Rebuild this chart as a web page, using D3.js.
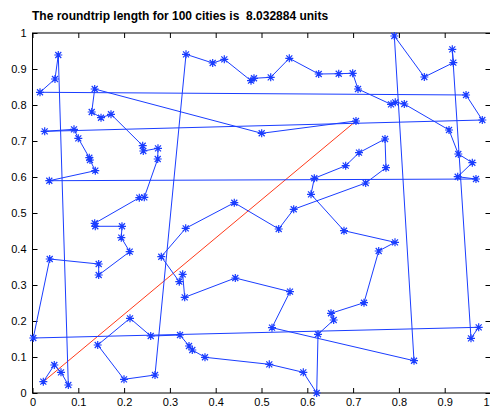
<!DOCTYPE html>
<html>
<head>
<meta charset="utf-8">
<script src="https://cdn.jsdelivr.net/npm/d3@7"></script>
<style>
  html, body { margin: 0; padding: 0; background: #fff; }
  svg { display: block; font-family: "Liberation Sans", Arial, Helvetica, sans-serif; }
</style>
</head>
<body>
<script>
// Tour through the cities, in visiting order (last city closes back to the first).
const routeX = [0.7063,0.5004,0.1358,0.1293,0.1496,0.1714,0.2406,0.2419,0.2740,0.2734,
  0.2441,0.2332,0.1358,0.1371,0.1954,0.1939,0.2122,0.1445,0.1445,0.0376,
  0.0017,0.9742,0.9574,0.9166,0.9188,0.8555,0.7900,0.8330,0.5229,0.5622,
  0.4428,0.3323,0.3279,0.3205,0.2812,0.3345,0.4406,0.5376,0.5703,0.7275,
  0.7718,0.7697,0.7129,0.6838,0.6153,0.6081,0.6801,0.7915,0.7559,0.7238,
  0.6518,0.6576,0.6234,0.6205,0.5913,0.5170,0.3766,0.3489,0.3417,0.3221,
  0.2581,0.2129,0.1424,0.1998,0.2675,0.3352,0.3934,0.4188,0.4771,0.4836,
  0.5201,0.5607,0.6249,0.6686,0.6991,0.7107,0.7828,0.7921,0.8118,0.9094,
  0.9297,0.9603,0.9284,0.9683,0.0367,0.1371,0.1255,0.1240,0.1000,0.0906,
  0.0266,0.9821,0.9466,0.0164,0.0491,0.0563,0.0782,0.0622,0.0476,0.0236];
const routeY = [0.7556,0.7214,0.8444,0.7806,0.7647,0.7742,0.6869,0.6722,0.6797,0.6500,
  0.5436,0.5425,0.4714,0.4631,0.4631,0.4314,0.3925,0.3278,0.3583,0.3722,
  0.1528,0.1825,0.1519,0.9547,0.9175,0.8778,0.9917,0.0897,0.1814,0.2814,
  0.3194,0.2658,0.3297,0.3092,0.3786,0.4575,0.5286,0.4556,0.5103,0.5833,
  0.6258,0.7056,0.6675,0.6314,0.5964,0.5519,0.4508,0.4186,0.3944,0.2508,
  0.2214,0.2028,0.1631,0.0000,0.0575,0.0797,0.0992,0.1194,0.1306,0.1611,
  0.1583,0.2075,0.1333,0.0380,0.0500,0.9408,0.9167,0.9269,0.8675,0.8742,
  0.8769,0.9297,0.8861,0.8869,0.8881,0.8444,0.8019,0.8075,0.8028,0.7306,
  0.6639,0.6397,0.6008,0.5944,0.5897,0.6175,0.6472,0.6536,0.7075,0.7325,
  0.7269,0.7583,0.8278,0.8353,0.8722,0.9389,0.0222,0.0575,0.0778,0.0314];

const xTicks = [0,0.1,0.2,0.3,0.4,0.5,0.6,0.7,0.8,0.9,1];
const yTicks = [0,0.1,0.2,0.3,0.4,0.5,0.6,0.7,0.8,0.9,1];
const tourLength = 8.032884;

const W = 490, H = 409;
const plotLeft = 32.5, plotRight = 490.5, plotTop = 33, plotBottom = 393;
const blue = "#1a3dff", red = "#ff3a1a";

const svg = d3.select("body").append("svg").attr("width", W).attr("height", H);

const x = d3.scaleLinear().domain([0, 1]).range([plotLeft, plotRight]);
const y = d3.scaleLinear().domain([0, 1]).range([plotBottom, plotTop]);

const fmt = d => (d === 0 ? "0" : d === 1 ? "1" : d3.format(".1f")(d));

// Axes with inward ticks on all four sides
const gx = svg.append("g").attr("transform", `translate(0,${plotBottom})`)
  .call(d3.axisBottom(x).tickValues(xTicks).tickFormat(fmt).tickSizeInner(-5).tickSizeOuter(0).tickPadding(5));
const gxt = svg.append("g").attr("transform", `translate(0,${plotTop})`)
  .call(d3.axisTop(x).tickValues(xTicks).tickFormat("").tickSizeInner(-5).tickSizeOuter(0));
const gy = svg.append("g").attr("transform", `translate(${plotLeft},0)`)
  .call(d3.axisLeft(y).tickValues(yTicks).tickFormat(fmt).tickSizeInner(-5).tickSizeOuter(0).tickPadding(6));
const gyr = svg.append("g").attr("transform", `translate(${plotRight},0)`)
  .call(d3.axisRight(y).tickValues(yTicks).tickFormat("").tickSizeInner(-5).tickSizeOuter(0));

[gx, gxt, gy, gyr].forEach(g => {
  g.select(".domain").remove();
  g.selectAll(".tick line").attr("stroke", "#000");
  g.selectAll("text").attr("font-size", 11).attr("fill", "#000")
    .attr("font-family", "'Liberation Sans', Arial, Helvetica, sans-serif");
});
// keep the last x label inside the page
gx.selectAll(".tick text").filter(d => d === 1).attr("text-anchor", "end").attr("dx", -1.5);

svg.append("rect").attr("x", plotLeft).attr("y", plotTop)
  .attr("width", plotRight - plotLeft).attr("height", plotBottom - plotTop)
  .attr("fill", "none").attr("stroke", "#000").attr("stroke-width", 1);

const cities = routeX.map((v, i) => ({ x: v, y: routeY[i] }));

// Closing leg from the last city back to the first
svg.append("line")
  .attr("x1", x(cities[cities.length - 1].x)).attr("y1", y(cities[cities.length - 1].y))
  .attr("x2", x(cities[0].x)).attr("y2", y(cities[0].y))
  .attr("stroke", red).attr("stroke-width", 1);

// Route
svg.append("path")
  .datum(cities)
  .attr("d", d3.line().x(d => x(d.x)).y(d => y(d.y)))
  .attr("fill", "none").attr("stroke", blue).attr("stroke-width", 1);

// Asterisk markers
const r = 4, q = 3;
const star = `M${-r},0L${r},0M0,${-r}L0,${r}M${-q},${-q}L${q},${q}M${-q},${q}L${q},${-q}`;
svg.append("g").selectAll("path").data(cities).join("path")
  .attr("transform", d => `translate(${x(d.x)},${y(d.y)})`)
  .attr("d", star).attr("fill", "none").attr("stroke", blue).attr("stroke-width", 1.2);

// Title
svg.append("text")
  .attr("x", 32).attr("y", 19.5)
  .attr("font-size", 12).attr("font-weight", "bold").attr("fill", "#000")
  .style("white-space", "pre")
  .text(`The roundtrip length for ${cities.length} cities is  ${tourLength.toFixed(6)} units`);
</script>
</body>
</html>
